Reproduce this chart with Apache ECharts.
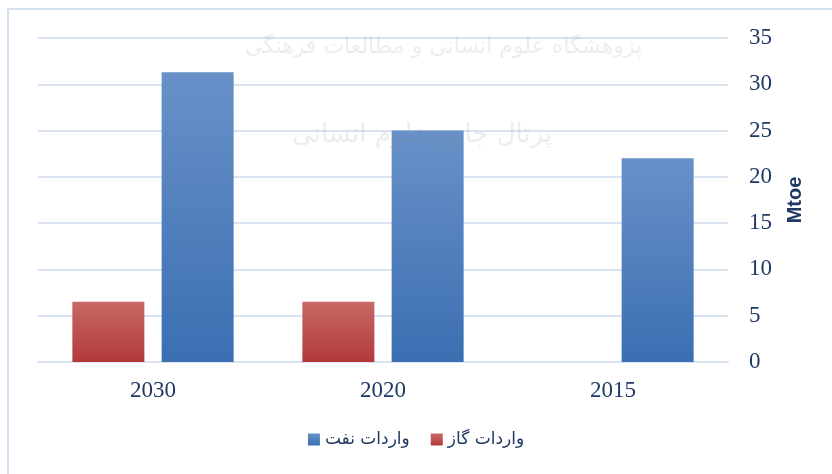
<!DOCTYPE html>
<html>
<head>
<meta charset="utf-8">
<script src="https://cdn.jsdelivr.net/npm/echarts@6/dist/echarts.min.js"></script>
<style>
  html, body { margin: 0; padding: 0; background: #fff; }
  #chart { width: 832px; height: 474px; }
</style>
</head>
<body>
<div id="chart"></div>
<script>
// داده‌ها
var years = ['2030', '2020', '2015'];
var gasImports = [6.5, 6.5, 0];
var oilImports = [31.3, 25, 22];
var yTicks = [0, 5, 10, 15, 20, 25, 30, 35];

var navy = '#203864';

function grad(top, bottom) {
    return new echarts.graphic.LinearGradient(0, 0, 0, 1, [
        { offset: 0, color: top },
        { offset: 1, color: bottom }
    ]);
}

var chartDom = document.getElementById('chart');
var myChart = echarts.init(chartDom);

var option = {
    animation: false,
    grid: { left: 38, right: 104, top: 38, bottom: 112 },
    graphic: [
        {
            type: 'rect',
            shape: { x: 8, y: 9, width: 840, height: 480 },
            style: { fill: 'none', stroke: '#d3e0f0', lineWidth: 2 },
            silent: true
        },
        {
            type: 'text', left: 245, top: 36, z: 10, silent: true,
            style: { text: 'پژوهشگاه علوم انسانی و مطالعات فرهنگی', font: '22px "DejaVu Sans"', fill: 'rgba(140,140,140,0.16)' }
        },
        {
            type: 'text', left: 292, top: 122, z: 10, silent: true,
            style: { text: 'پرتال جامع علوم انسانی', font: '26px "DejaVu Sans"', fill: 'rgba(140,140,140,0.16)' }
        }
    ],
    legend: {
        data: ['واردات نفت', 'واردات گاز'],
        bottom: 21,
        left: 'center',
        icon: 'rect',
        itemWidth: 12,
        itemHeight: 12,
        itemGap: 21,
        textStyle: { color: navy, fontSize: 17, fontFamily: 'DejaVu Sans' }
    },
    xAxis: {
        type: 'category',
        data: years,
        axisLine: { show: true, lineStyle: { color: '#d9e3f1', width: 2 } },
        axisTick: { show: false },
        axisLabel: { color: navy, fontSize: 23, fontFamily: 'Liberation Serif', margin: 17 }
    },
    yAxis: {
        type: 'value',
        position: 'right',
        min: 0,
        max: 35,
        interval: 5,
        name: 'Mtoe',
        nameLocation: 'middle',
        nameRotate: 90,
        nameGap: 57,
        nameTextStyle: { color: navy, fontSize: 20, fontWeight: 'bold', fontFamily: 'Liberation Sans' },
        axisLine: { show: false },
        axisTick: { show: false },
        splitLine: { lineStyle: { color: '#d9e3f1', width: 2 } },
        axisLabel: {
            color: navy, fontSize: 23, fontFamily: 'Liberation Serif', margin: 21,
            formatter: function (v) { return yTicks.indexOf(v) >= 0 ? String(v) : ''; }
        }
    },
    series: [
        {
            name: 'واردات گاز',
            type: 'bar',
            data: gasImports,
            barWidth: 72,
            barGap: '24%',
            barCategoryGap: '30%',
            itemStyle: { color: grad('#c76966', '#b3393a') }
        },
        {
            name: 'واردات نفت',
            type: 'bar',
            data: oilImports,
            barWidth: 72,
            itemStyle: { color: grad('#6891c8', '#3b6fb2') }
        }
    ]
};

option && myChart.setOption(option);
</script>
</body>
</html>
